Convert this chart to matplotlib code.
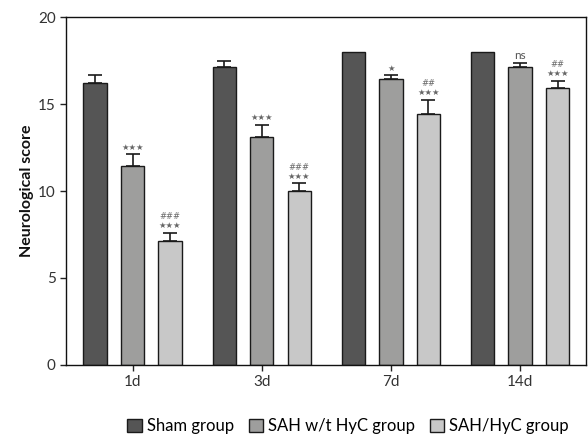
import numpy as np
import matplotlib.pyplot as plt
from matplotlib.patches import Patch

plt.rcParams['font.family'] = ['Lato', 'DejaVu Sans']

days = ['1d', '3d', '7d', '14d']
groups = ['Sham group', 'SAH w/t HyC group', 'SAH/HyC group']
sham = [16.2, 17.15, 18.0, 18.0]
sham_err = [0.45, 0.33, 0.0, 0.0]
wt = [11.45, 13.1, 16.45, 17.15]
wt_err = [0.65, 0.7, 0.2, 0.2]
hyc = [7.15, 10.0, 14.45, 15.95]
hyc_err = [0.45, 0.45, 0.8, 0.4]
wt_marks = ['★★★', '★★★', '★', 'ns']
hyc_marks = ['###\n★★★', '###\n★★★', '##\n★★★', '##\n★★★']

colors = ['#555555', '#9e9e9d', '#c8c8c8']

fig = plt.figure(figsize=(5.88, 4.37), dpi=100)
ax = fig.add_axes([0.1122, 0.1648, 0.8844, 0.7962])

x = np.arange(len(days))
w = 0.18
off = 0.29
series = [(sham, sham_err), (wt, wt_err), (hyc, hyc_err)]
for i, (vals, errs) in enumerate(series):
    pos = x + (i - 1) * off
    ax.bar(pos, vals, w, color=colors[i], edgecolor='#1a1a1a', linewidth=1.0, zorder=2)
    e = np.array(errs)
    keep = e > 0
    ax.errorbar(pos[keep], np.array(vals)[keep], yerr=[np.zeros(keep.sum()), e[keep]],
                fmt='none', ecolor='#1a1a1a', elinewidth=1.2, capsize=5, capthick=1.2, zorder=3)

for j in range(len(days)):
    top = wt[j] + wt_err[j]
    if wt_marks[j] == 'ns':
        ax.text(x[j], top + 0.1, 'ns', ha='center', va='bottom', fontsize=8.5, color='#555555')
    else:
        ax.text(x[j], top + 0.15, wt_marks[j], ha='center', va='bottom', fontsize=6,
                color='#666666', family=['DejaVu Sans'])
    top = hyc[j] + hyc_err[j]
    ax.text(x[j] + off, top + 0.15, hyc_marks[j], ha='center', va='bottom', fontsize=6,
            color='#666666', family=['DejaVu Sans'], linespacing=1.0)

ax.set_xlim(-0.515, 3.51)
ax.set_ylim(0, 20)
ax.set_yticks([0, 5, 10, 15, 20])
ax.set_xticks(x)
ax.set_xticklabels(days)
ax.tick_params(axis='both', labelsize=11, colors='#222222', length=4, width=1)
for lab in ax.get_xticklabels() + ax.get_yticklabels():
    lab.set_color('#333333')
ax.set_ylabel('Neurological score', fontsize=11.5, fontweight='bold', color='#111111')
ax.yaxis.set_label_coords(-0.062, 0.5)
for s in ax.spines.values():
    s.set_linewidth(1.0)
    s.set_color('#111111')

handles = [Patch(facecolor=c, edgecolor='#1a1a1a', linewidth=1.0) for c in colors]
fig.legend(handles, groups, loc='center', bbox_to_anchor=(0.592, 0.025), ncol=3,
           frameon=False, fontsize=12, handlelength=0.85, handleheight=0.85,
           handletextpad=0.3, columnspacing=0.9)

fig.savefig('out.png', dpi=100)
